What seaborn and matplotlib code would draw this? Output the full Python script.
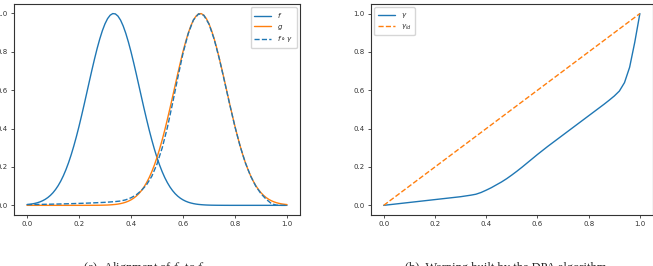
import numpy as np
import pandas as pd
import seaborn as sns
import matplotlib
matplotlib.use('Agg')
import matplotlib.pyplot as plt

# fine grid for f and g: 0, 0.01, ..., 1.0 (101 samples)
t_fine = [i / 100 for i in range(101)]
# coarse grid for f o gamma and gamma: 0, 0.02, ..., 1.0 (51 samples)
t = [i / 50 for i in range(51)]

# f : bump centred at 1/3
f_vals = [0.0039, 0.0054, 0.0074, 0.0101, 0.0135, 0.0181, 0.0239, 0.0312, 0.0404, 0.0518,
          0.0657, 0.0827, 0.1028, 0.1266, 0.1543, 0.1864, 0.2227, 0.2636, 0.3088, 0.3581,
          0.4111, 0.4677, 0.5262, 0.5865, 0.6470, 0.7068, 0.7642, 0.8185, 0.8675, 0.9105,
          0.9460, 0.9732, 0.9911, 0.9995, 0.9978, 0.9862, 0.9651, 0.9349, 0.8967, 0.8515,
          0.8007, 0.7451, 0.6869, 0.6265, 0.5661, 0.5061, 0.4484, 0.3928, 0.3411, 0.2930,
          0.2494, 0.2099, 0.1752, 0.1445, 0.1182, 0.0956, 0.0766, 0.0607, 0.0477, 0.0371,
          0.0286, 0.0218, 0.0164, 0.0123, 0.0091, 0.0066, 0.0048, 0.0035, 0.0025, 0.0017,
          0.0012, 0.0008, 0.0006, 0.0004, 0.0003, 0.0002, 0.0001, 0.0001, 0.0, 0.0,
          0.0, 0.0, 0.0, 0.0, 0.0, 0.0, 0.0, 0.0, 0.0, 0.0,
          0.0, 0.0, 0.0, 0.0, 0.0, 0.0, 0.0, 0.0, 0.0, 0.0,
          0.0]

# g : bump centred at 2/3
g_vals = [0.0, 0.0, 0.0, 0.0, 0.0, 0.0, 0.0, 0.0, 0.0, 0.0,
          0.0, 0.0, 0.0, 0.0, 0.0, 0.0, 0.0, 0.0, 0.0, 0.0,
          0.0, 0.0, 0.0, 0.0001, 0.0001, 0.0002, 0.0003, 0.0004, 0.0006, 0.0008,
          0.0012, 0.0017, 0.0025, 0.0035, 0.0048, 0.0066, 0.0091, 0.0123, 0.0164, 0.0218,
          0.0286, 0.0371, 0.0477, 0.0607, 0.0766, 0.0956, 0.1182, 0.1445, 0.1752, 0.2099,
          0.2494, 0.2930, 0.3411, 0.3928, 0.4484, 0.5061, 0.5661, 0.6265, 0.6869, 0.7451,
          0.8007, 0.8515, 0.8967, 0.9349, 0.9651, 0.9862, 0.9978, 0.9995, 0.9911, 0.9732,
          0.9460, 0.9105, 0.8675, 0.8185, 0.7642, 0.7068, 0.6470, 0.5865, 0.5262, 0.4677,
          0.4111, 0.3581, 0.3088, 0.2636, 0.2227, 0.1864, 0.1543, 0.1266, 0.1028, 0.0827,
          0.0657, 0.0518, 0.0404, 0.0312, 0.0239, 0.0181, 0.0135, 0.0101, 0.0074, 0.0054,
          0.0039]

# f o gamma
fg_vals = [0.0039, 0.0043, 0.0047, 0.0052, 0.0057, 0.0063, 0.0069, 0.0076, 0.0084, 0.0092,
           0.0101, 0.0110, 0.0120, 0.0132, 0.0144, 0.0157, 0.0176, 0.0197, 0.0226, 0.0288,
           0.0394, 0.0544, 0.0772, 0.1073, 0.1514, 0.2151, 0.2994, 0.4058, 0.5323, 0.6652,
           0.7919, 0.8941, 0.9660, 0.9980, 0.9907, 0.9448, 0.8657, 0.7622, 0.6447, 0.5239,
           0.4090, 0.3070, 0.2212, 0.1532, 0.0998, 0.0607, 0.0317, 0.0091, 0.0006, 0.0,
           0.0]

# warping gamma built by DPA
gamma_vals = [0.0, 0.003, 0.006, 0.009, 0.012, 0.015, 0.018, 0.021, 0.024, 0.027,
              0.030, 0.033, 0.036, 0.039, 0.042, 0.045, 0.049, 0.053, 0.058, 0.067,
              0.079, 0.092, 0.107, 0.122, 0.139, 0.158, 0.178, 0.199, 0.221, 0.243,
              0.265, 0.286, 0.307, 0.327, 0.347, 0.367, 0.387, 0.407, 0.427, 0.447,
              0.467, 0.487, 0.507, 0.527, 0.548, 0.570, 0.596, 0.640, 0.720, 0.850,
              1.0]

# identity warping
id_t = [0.0, 1.0]
id_vals = [0.0, 1.0]

sns.set_style("ticks")
plt.rcParams['axes.edgecolor'] = '0.2'
plt.rcParams['xtick.color'] = '0.2'
plt.rcParams['ytick.color'] = '0.2'

blue, orange = sns.color_palette("tab10")[:2]

fig = plt.figure(figsize=(6.53, 2.66), dpi=100)
ax1 = fig.add_axes([0.0214, 0.192, 0.4380, 0.793])
ax2 = fig.add_axes([0.5680, 0.192, 0.4315, 0.793])

sns.lineplot(x=t_fine, y=f_vals, ax=ax1, color=blue, lw=1, label='$f$')
sns.lineplot(x=t_fine, y=g_vals, ax=ax1, color=orange, lw=1, label='$g$')
sns.lineplot(x=t, y=fg_vals, ax=ax1, color=blue, lw=1, ls='--', label=r'$f\circ\gamma$')

sns.lineplot(x=t, y=gamma_vals, ax=ax2, color=blue, lw=1, label=r'$\gamma$')
sns.lineplot(x=id_t, y=id_vals, ax=ax2, color=orange, lw=1, ls='--', label=r'$\gamma_{id}$')

for ax in (ax1, ax2):
    ax.set_xticks([0, 0.2, 0.4, 0.6, 0.8, 1.0])
    ax.set_yticks([0, 0.2, 0.4, 0.6, 0.8, 1.0])
    ax.set_xticklabels(['0.0', '0.2', '0.4', '0.6', '0.8', '1.0'])
    ax.set_yticklabels(['0.0', '0.2', '0.4', '0.6', '0.8', '1.0'])
    ax.tick_params(labelsize=5, length=2.5, width=0.6, pad=2)
    for s in ax.spines.values():
        s.set_linewidth(0.8)
        s.set_visible(True)

ax1.legend(loc='upper right', fontsize=5, handlelength=2.5, borderpad=0.5, labelspacing=0.4)
ax2.legend(loc='upper left', fontsize=5, handlelength=2.5, borderpad=0.5, labelspacing=0.4)

fig.text(0.222, -0.018, r'(a)  Alignment of $f_1$ to $f_2$', ha='center', va='baseline',
         fontsize=9, family='Liberation Serif', math_fontfamily='stix')
fig.text(0.775, -0.018, '(b)  Warping built by the DPA algorithm', ha='center', va='baseline',
         fontsize=9, family='Liberation Serif')

fig.savefig('out.png', dpi=100)
